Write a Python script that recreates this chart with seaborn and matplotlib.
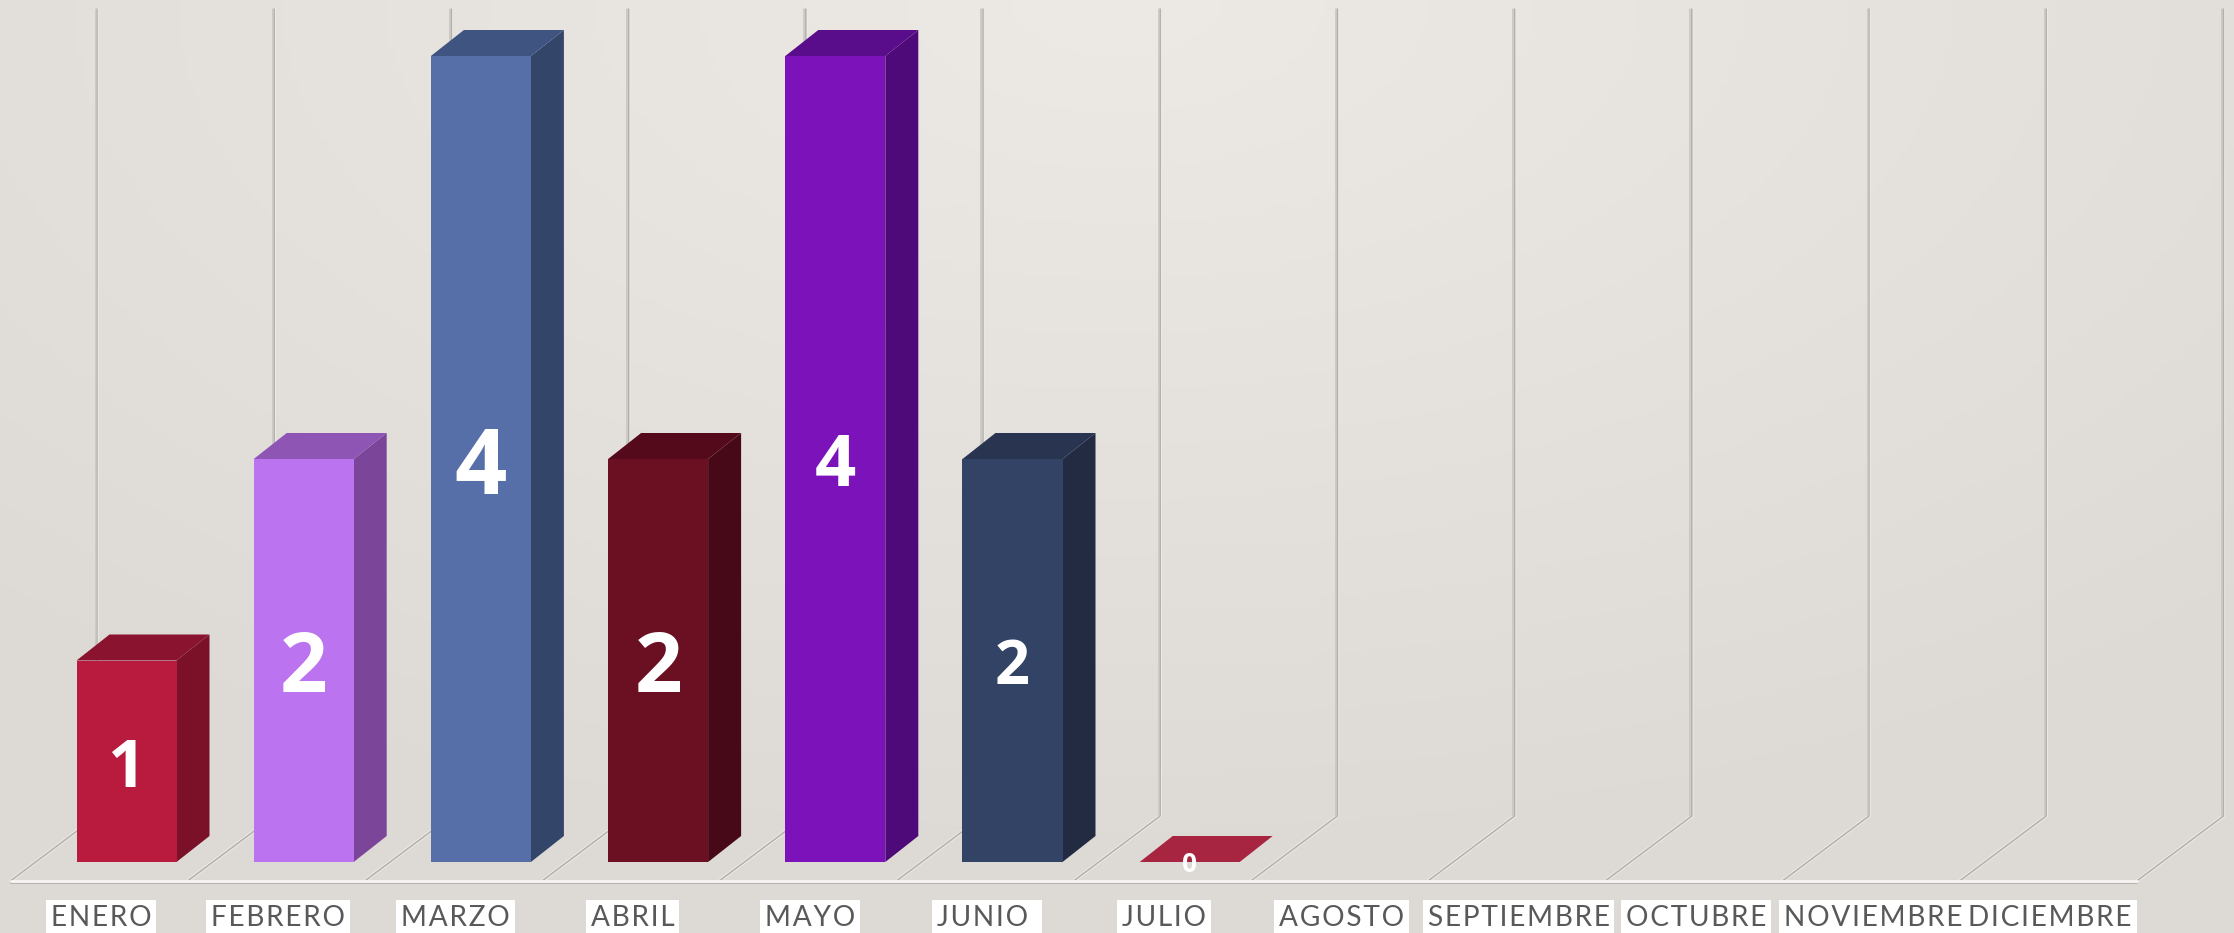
# -*- coding: utf-8 -*-
import matplotlib
matplotlib.use("Agg")
import matplotlib.pyplot as plt
from matplotlib.patches import Polygon
import numpy as np
import seaborn as sns

meses = ["ENERO", "FEBRERO", "MARZO", "ABRIL", "MAYO", "JUNIO ", "JULIO", "AGOSTO",
         "SEPTIEMBRE", "OCTUBRE", "NOVIEMBRE", "DICIEMBRE"]
valores = [1, 2, 4, 2, 4, 2, 0, np.nan, np.nan, np.nan, np.nan, np.nan]

color_frente = ["#B81B3D", "#BB73F0", "#566FA8", "#6B0F23", "#7C12BA", "#334365", "#B01F40",
                "#dddad5", "#dddad5", "#dddad5", "#dddad5", "#dddad5"]
color_lado = ["#7A1129", "#7B4699", "#33466A", "#470817", "#4E0A78", "#222B42", "#B01F40"]
color_tapa = ["#8A1430", "#8E55B5", "#3F5480", "#550A1C", "#5A0D8A", "#293450", "#A82542"]
tam_valor = [48, 60, 66, 60, 52, 44, 19]

W, H = 2234, 933
paso_x = 177.2   # px por categoria
paso_y = 201.5   # px por unidad
cero_x, cero_y = 126.5, 862   # donde cae la categoria 0 / valor 0
fondo_dx = 33 / paso_x
fondo_dy = 26 / paso_y

sns.set_theme(style="white")
plt.rcParams["font.family"] = ["Lato", "DejaVu Sans"]
fig = plt.figure(figsize=(W / 100, H / 100), dpi=100)

# fondo degradado
ax_bg = fig.add_axes([0, 0, 1, 1], zorder=-1)
xx, yy = np.meshgrid(np.linspace(0, 1, 300), np.linspace(0, 1, 200))
r = np.clip(np.sqrt(((xx - 0.5) / 0.75) ** 2 + (yy / 0.95) ** 2), 0, 1)
claro = np.array([237, 233, 229]) / 255
oscuro = np.array([221, 218, 213]) / 255
ax_bg.imshow(claro + (oscuro - claro) * r[..., None], aspect="auto")
ax_bg.set_axis_off()

ax = fig.add_axes([0, 0, 1, 1])
ax.patch.set_alpha(0)

sns.barplot(x=meses, y=valores, hue=meses, palette=color_frente, saturation=1,
            width=100 / paso_x, legend=False, ax=ax, zorder=3, linewidth=0)
ax.set_xlim(-cero_x / paso_x, (W - cero_x) / paso_x)
ax.set_ylim(-(H - cero_y) / paso_y, cero_y / paso_y)
ax.set_axis_off()

# paredes del fondo: 13 divisiones
piso_x0 = (11 - cero_x) / paso_x
piso_y = (cero_y - 880.5) / paso_y
pared_x0 = (97 - cero_x) / paso_x
pared_y0 = (cero_y - 816) / paso_y
pared_y1 = (cero_y - 9) / paso_y
for i in range(13):
    xs = [piso_x0 + i, pared_x0 + i, pared_x0 + i]
    ys = [piso_y, pared_y0, pared_y1]
    ax.plot(xs, ys, color="#ebe9e6", lw=2.6, zorder=1, solid_joinstyle="miter")
    ax.plot(xs, ys, color="#b4b1ac", lw=1.1, zorder=1.1, solid_joinstyle="miter")
    ax.plot([x - 1.5 / paso_x for x in xs[1:]], ys[1:], color="#c6c3bf", lw=1.1, zorder=1.1)

ax.plot([piso_x0, piso_x0 + 12], [piso_y - 2 / paso_y] * 2, color="#b9b6b1", lw=1.5, zorder=1.2)
ax.plot([piso_x0, piso_x0 + 12], [piso_y] * 2, color="#f7f6f4", lw=2, zorder=1.3)

# caras laterales y tapas a partir de cada barra
barras = [p for p in ax.patches if p.get_height() == p.get_height()]
for i, val in enumerate(valores[:7]):
    b = next(p for p in barras if abs(p.get_x() + p.get_width() / 2 - i) < 0.01)
    x0, x1 = b.get_x(), b.get_x() + b.get_width()
    ax.add_patch(Polygon([(x1, 0), (x1 + fondo_dx, fondo_dy), (x1 + fondo_dx, val + fondo_dy), (x1, val)],
                         fc=color_lado[i], ec="none", zorder=2.5))
    ax.add_patch(Polygon([(x0, val), (x1, val), (x1 + fondo_dx, val + fondo_dy), (x0 + fondo_dx, val + fondo_dy)],
                         fc=color_tapa[i], ec="none", zorder=2.6))
    yt = val / 2 if val > 0 else 0.0
    ax.text(i, yt, str(val), color="white", family="Open Sans", fontweight="bold", fontsize=tam_valor[i],
            ha="center", va="center_baseline", zorder=5)

# etiquetas de mes, con letras separadas
for i, m in enumerate(meses):
    ax.text(i - 25.5 / paso_x, (cero_y - 915) / paso_y, "\u200a".join(m), color="#595959", fontsize=20.2,
            ha="center", va="center_baseline", zorder=6,
            bbox=dict(fc="white", ec="none", pad=3.5))

fig.savefig("out.png", dpi=100)
